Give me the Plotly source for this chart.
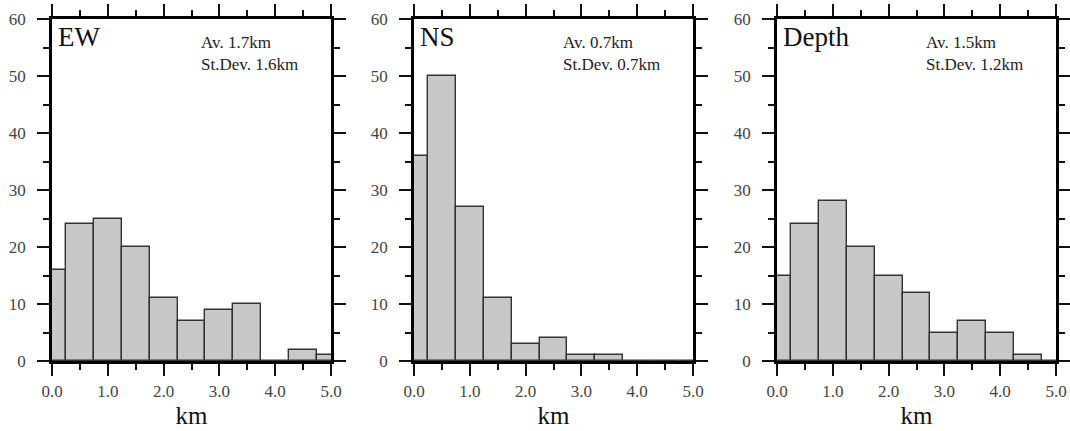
import plotly.graph_objects as go

bin_centers = [0.0, 0.5, 1.0, 1.5, 2.0, 2.5, 3.0, 3.5, 4.0, 4.5, 5.0]
ew_counts = [16, 24, 25, 20, 11, 7, 9, 10, 0, 2, 1]
ns_counts = [36, 50, 27, 11, 3, 4, 1, 1, 0, 0, 0]
depth_counts = [15, 24, 28, 20, 15, 12, 5, 7, 5, 1, 0]
panel_names = ["EW", "NS", "Depth"]
avg_labels = ["Av. 1.7km", "Av. 0.7km", "Av. 1.5km"]
std_labels = ["St.Dev. 1.6km", "St.Dev. 0.7km", "St.Dev. 1.2km"]
x_ticks = [0.0, 1.0, 2.0, 3.0, 4.0, 5.0]
x_ticklabels = ["0.0", "1.0", "2.0", "3.0", "4.0", "5.0"]
y_ticks = [0, 10, 20, 30, 40, 50, 60]
bin_width = 0.5

W, H = 1070, 431
x_domains = [(52, 331), (414, 693), (777, 1056)]
y_top, y_bot = 19, 361
FONT = "Liberation Serif"

fig = go.Figure()
series = [ew_counts, ns_counts, depth_counts]
for i, counts in enumerate(series):
    sfx = "" if i == 0 else str(i + 1)
    fig.add_trace(go.Bar(
        x=bin_centers, y=counts, width=[bin_width] * len(bin_centers),
        marker=dict(color="#c8c8c8", line=dict(color="#333333", width=1.4)),
        xaxis="x" + sfx, yaxis="y" + sfx, showlegend=False, hoverinfo="skip",
    ))
    x0, x1 = x_domains[i]
    dom_x = [x0 / W, x1 / W]
    dom_y = [1 - y_bot / H, 1 - y_top / H]
    common = dict(
        showline=True, linewidth=2.5, linecolor="black", mirror="allticks",
        ticks="outside", ticklen=12, tickwidth=1.5, tickcolor="#111",
        showgrid=False, zeroline=False, automargin=False,
        tickfont=dict(family=FONT, size=17, color="#444"),
    )
    fig.layout["xaxis" + sfx] = dict(
        common, domain=dom_x, anchor="y" + sfx, range=[0, 5],
        tickvals=x_ticks, ticktext=x_ticklabels, ticklabelstandoff=1,
        minor=dict(dtick=0.5, ticks="outside", ticklen=6, tickwidth=1.5, tickcolor="#111"),
        title=dict(text="km", font=dict(family=FONT, size=25, color="#111"), standoff=7),
    )
    fig.layout["yaxis" + sfx] = dict(
        common, domain=dom_y, anchor="x" + sfx, range=[0, 60],
        tickvals=y_ticks, ticklabelstandoff=8,
        minor=dict(dtick=5, ticks="outside", ticklen=6, tickwidth=1.5, tickcolor="#111"),
    )
    fig.add_annotation(
        x=(x0 + 4) / W, y=1 - 37 / H, xref="paper", yref="paper",
        text=panel_names[i], showarrow=False, xanchor="left", yanchor="middle",
        font=dict(family=FONT, size=27, color="#111"),
    )
    fig.add_annotation(
        x=(x0 + 147) / W, y=1 - 43 / H, xref="paper", yref="paper",
        text=avg_labels[i], showarrow=False, xanchor="left", yanchor="middle",
        font=dict(family=FONT, size=17, color="#222"),
    )
    fig.add_annotation(
        x=(x0 + 147) / W, y=1 - 65 / H, xref="paper", yref="paper",
        text=std_labels[i], showarrow=False, xanchor="left", yanchor="middle",
        font=dict(family=FONT, size=17, color="#222"),
    )

fig.update_layout(
    width=W, height=H, margin=dict(l=0, r=0, t=0, b=0),
    paper_bgcolor="white", plot_bgcolor="white", bargap=0,
)
fig.write_html("out.html")
